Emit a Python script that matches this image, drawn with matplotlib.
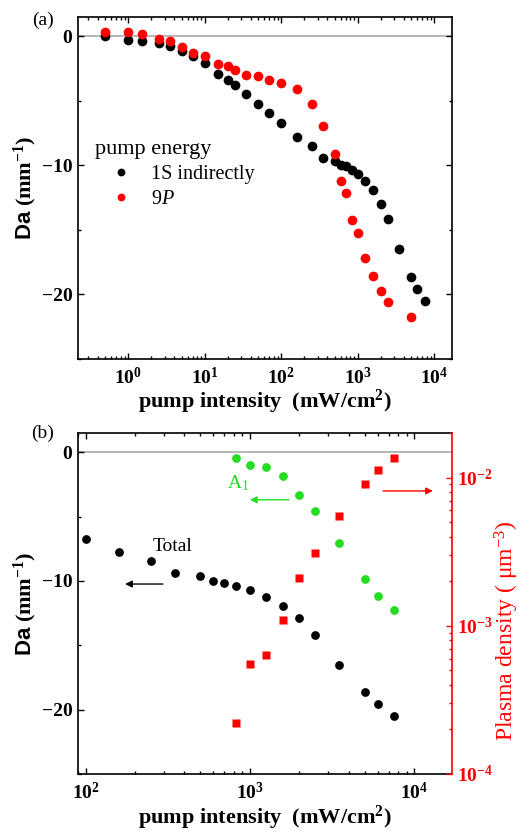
import numpy as np
import matplotlib.pyplot as plt

plt.rcParams['font.family'] = ['Liberation Serif', 'DejaVu Serif']
plt.rcParams['mathtext.fontset'] = 'custom'
plt.rcParams['mathtext.rm'] = 'Liberation Serif'
plt.rcParams['mathtext.it'] = 'Liberation Serif:italic'
plt.rcParams['mathtext.bf'] = 'Liberation Serif:bold'
plt.rcParams['mathtext.sf'] = 'Liberation Sans:bold'
plt.rcParams['mathtext.default'] = 'regular'

# panel (a): absorption change vs pump intensity
int_1s = [0.5, 1, 1.5, 2.5, 3.5, 5, 7, 10, 15, 20, 25, 35, 50, 70, 100, 160,
          250, 350, 500, 600, 700, 830, 1000, 1250, 1600, 2000, 2500, 3500,
          5000, 6000, 7500]
da_1s = [0.0, -0.28, -0.36, -0.52, -0.72, -1.16, -1.54, -2.08, -2.93, -3.4,
         -3.78, -4.5, -5.23, -5.97, -6.74, -7.77, -8.47, -9.42, -9.68, -9.96,
         -10.09, -10.35, -10.66, -11.25, -11.94, -12.97, -14.2, -16.5, -18.66,
         -19.59, -20.5]
int_9p = [0.5, 1, 1.5, 2.5, 3.5, 5, 7, 10, 15, 20, 25, 35, 50, 70, 100, 160,
          250, 350, 500, 600, 700, 830, 1000, 1250, 1600, 2000, 2500, 5000]
da_9p = [0.36, 0.36, 0.2, -0.2, -0.36, -0.82, -1.26, -1.54, -2.11, -2.29,
         -2.57, -2.96, -3.09, -3.4, -3.65, -4.12, -5.23, -6.93, -9.11, -11.25,
         -12.15, -14.26, -15.29, -17.2, -18.59, -19.72, -20.62, -21.8]

# panel (b)
int_tot = [100, 160, 250, 350, 500, 600, 700, 830, 1000, 1250, 1600, 2000,
           2500, 3500, 5000, 6000, 7500]
da_tot = [-6.72, -7.77, -8.47, -9.4, -9.6, -10.0, -10.17, -10.4, -10.73,
          -11.25, -11.94, -12.9, -14.18, -16.5, -18.66, -19.56, -20.46]
int_a1 = [830, 1000, 1250, 1600, 2000, 2500, 3500, 5000, 6000, 7500]
da_a1 = [-0.44, -1.0, -1.13, -1.85, -3.32, -4.56, -7.05, -9.81, -11.14, -12.23]
dens = [2.2e-4, 5.5e-4, 6.4e-4, 1.09e-3, 2.09e-3, 3.1e-3, 5.5e-3, 9.0e-3,
        1.13e-2, 1.35e-2]

green = '#22dd22'
tick_fs = 14
lab_fs = 16

fig = plt.figure(figsize=(5.2, 8.31), dpi=100)
ax_a = fig.add_axes([0.15, 0.5684, 0.719, 0.4111])
ax_b = fig.add_axes([0.15, 0.0686, 0.719, 0.4104])


def style(ax, right=True):
    ax.set_xscale('log')
    ax.set_ylim(-25, 1.5)
    ax.set_yticks([0, -10, -20])
    ax.set_yticks([-5, -15, -25], minor=True)
    ax.axhline(0, color='#aaaaaa', lw=1.2, zorder=0)
    ax.tick_params(which='both', direction='in', top=True, right=right,
                   labelsize=tick_fs, width=1.0)
    ax.tick_params(which='major', length=4, pad=4)
    ax.tick_params(which='minor', length=2.5)
    ax.tick_params(axis='x', which='major', pad=6)
    for lab in ax.get_xticklabels() + ax.get_yticklabels():
        lab.set_fontweight('bold')
    for s in ax.spines.values():
        s.set_linewidth(1.2)
    ax.set_ylabel(r'$\mathsf{Da}$ (mm$^{-1}$)', fontsize=lab_fs,
                  fontweight='bold', labelpad=2)
    ax.set_xlabel('pump intensity  (mW/cm$^2$)', fontsize=lab_fs,
                  fontweight='bold', labelpad=0)


# (a)
ax_a.plot(int_1s, da_1s, 'o', color='black', ms=7, mec='none',
          label='1S indirectly')
ax_a.plot(int_9p, da_9p, 'o', color='red', ms=7, mec='none',
          label=r'9$\it{P}$')
ax_a.set_xlim(0.22, 1.7e4)
style(ax_a)
leg = ax_a.legend(title='pump energy', frameon=False, loc='upper left',
                  bbox_to_anchor=(0.045, 0.64), fontsize=14.5,
                  title_fontsize=16, alignment='left', markerscale=0.8,
                  handlelength=2.6, handletextpad=0.2, labelspacing=0.3,
                  borderpad=0, borderaxespad=0)
ax_a.text(-0.094, 0.99, '(a)', transform=ax_a.transAxes, fontsize=14,
          ha='center', va='center')

# (b)
ax_b.plot(int_tot, da_tot, 'o', color='black', ms=6.3, mec='none')
ax_b.plot(int_a1, da_a1, 'o', color=green, ms=6.3, mec='none')
ax_b.set_xlim(90, 1.7e4)
style(ax_b, right=False)
ax_b.spines['right'].set_visible(False)

ax_r = ax_b.twinx()
ax_r.plot(int_a1, dens, 's', color='red', ms=6.2, mec='none')
ax_r.set_yscale('log')
ax_r.set_ylim(1e-4, 2e-2)
ax_r.set_xlim(90, 1.7e4)
ax_r.spines['right'].set_color('red')
ax_r.spines['right'].set_linewidth(1.2)
for side in ['left', 'top', 'bottom']:
    ax_r.spines[side].set_visible(False)
ax_r.tick_params(which='both', direction='in', colors='red',
                 labelsize=tick_fs, width=1.0)
ax_r.tick_params(which='major', length=4, pad=4)
ax_r.tick_params(which='minor', length=2.5)
for lab in ax_r.get_yticklabels():
    lab.set_fontweight('bold')
ax_r.set_ylabel(r'Plasma density ( $\mu$m$^{-3}$)', color='red',
                fontsize=17)
ax_r.yaxis.set_label_coords(1.11, 0.42)

ax_b.text(-0.094, 1.0, '(b)', transform=ax_b.transAxes, fontsize=14,
          ha='center', va='center')
ax_b.text(0.254, 0.666, 'Total', transform=ax_b.transAxes, fontsize=14,
          ha='center', va='center')
ax_b.annotate('', xy=(0.126, 0.557), xytext=(0.227, 0.557),
              xycoords='axes fraction',
              arrowprops=dict(arrowstyle='-|>', color='black', lw=1,
                              mutation_scale=10, shrinkA=0, shrinkB=0))
ax_b.text(0.428, 0.853, r'A$_1$', transform=ax_b.transAxes, fontsize=14,
          color=green, ha='center', va='center')
ax_b.annotate('', xy=(0.46, 0.804), xytext=(0.564, 0.804),
              xycoords='axes fraction',
              arrowprops=dict(arrowstyle='-|>', color=green, lw=1,
                              mutation_scale=10, shrinkA=0, shrinkB=0))
ax_b.annotate('', xy=(0.949, 0.83), xytext=(0.816, 0.83),
              xycoords='axes fraction',
              arrowprops=dict(arrowstyle='-|>', color='red', lw=1,
                              mutation_scale=10, shrinkA=0, shrinkB=0))

fig.savefig('out.png', dpi=100)
